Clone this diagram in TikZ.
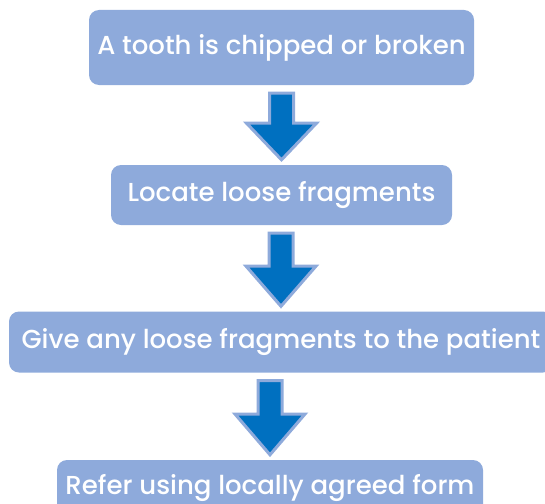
\documentclass[tikz,border=0pt]{standalone}
\usepackage{xcolor}
\usepackage{fontspec}
\newfontfamily\boxfont{Poppins}[UprightFont=* Medium]
\usepackage{tikz}
\usetikzlibrary{calc}

\definecolor{boxblue}{HTML}{8EAADB}
\definecolor{arrowblue}{HTML}{0070C0}

\begin{document}
\begin{tikzpicture}[x=1pt, y=-1pt,
    stepbox/.style={fill=boxblue, draw=none, rounded corners=10pt,
        text=white, font=\boxfont\fontsize{26}{29}\selectfont, inner sep=0pt},
    downarrow/.style={fill=arrowblue, draw=boxblue, line width=3pt, line join=miter}]

    % -------------------------
    % Frame
    % -------------------------
    \useasboundingbox (0,0) rectangle (545,503);
    \clip (0,0) rectangle (545,503);

    % -------------------------
    % Boxes
    % -------------------------
    \node[stepbox, minimum width=385pt, minimum height=75pt] (tooth) at (281.5,47.5)
        {A tooth is chipped or broken};
    \node[stepbox, minimum width=341pt, minimum height=60pt] (locate) at (281.5,195)
        {Locate loose fragments};
    \node[stepbox, minimum width=544pt, minimum height=61pt] (give) at (281,342)
        {Give any loose fragments to the patient};
    \node[stepbox, minimum width=426pt, minimum height=60pt, text depth=0pt] (refer) at (270,490)
        {\raisebox{11pt}{Refer using locally agreed form}};

    % -------------------------
    % Block arrows between boxes
    % -------------------------
    \foreach \a/\b in {tooth/locate, locate/give, give/refer} {
        \path let \p1=(\a.south), \p2=(\b.north),
            \n1={\y1-8pt}, \n2={\y2+5pt}, \n3={\n2+0.55*(\n1-\n2)} in
            [downarrow] (\x2-12pt,\n1) -- (\x2+12pt,\n1) -- (\x2+12pt,\n3)
            -- (\x2+35pt,\n3) -- (\x2,\n2) -- (\x2-35pt,\n3)
            -- (\x2-12pt,\n3) -- cycle;
    }

\end{tikzpicture}
\end{document}
